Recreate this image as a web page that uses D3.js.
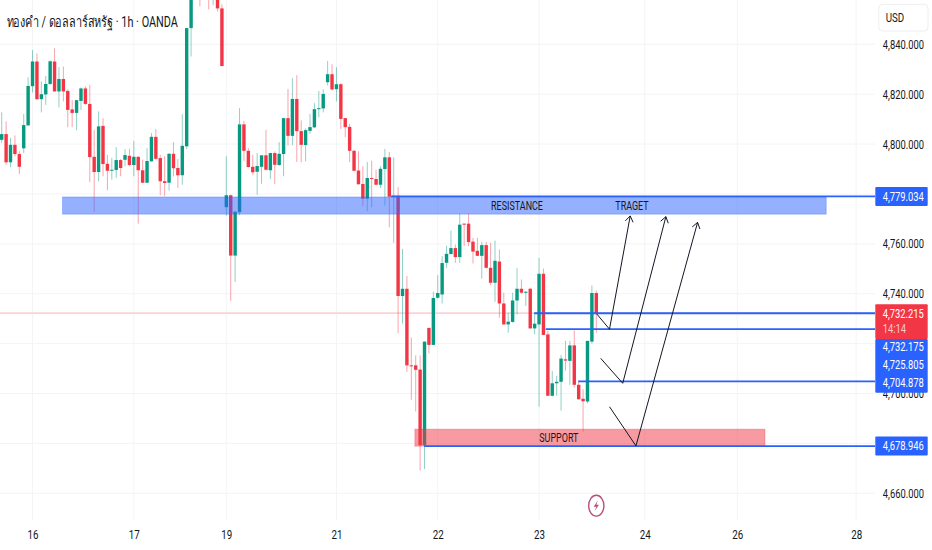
<!DOCTYPE html>
<html>
<head>
<meta charset="utf-8">
<script src="https://cdn.jsdelivr.net/npm/d3@7"></script>
<style>
  html, body { margin: 0; padding: 0; background: #fff; overflow: hidden; }
  svg { display: block; }
  text { font-family: Roboto, "Noto Sans", sans-serif; fill: #131722; }
</style>
</head>
<body>
<svg id="chart" width="932" height="550"></svg>
<script>
const opens = [
  4801.7, 4804.0, 4792.7, 4799.7, 4796.0, 4798.3, 4807.5, 4823.2, 4833.1, 4818.0,
  4819.9, 4824.1, 4833.1, 4821.1, 4826.1, 4821.3, 4813.9, 4812.5, 4817.3, 4822.3,
  4816.1, 4794.9, 4788.8, 4807.3, 4792.1, 4789.3, 4789.6, 4793.6, 4793.7, 4795.3,
  4791.6, 4794.9, 4789.5, 4784.5, 4793.1, 4802.9, 4794.4, 4785.1, 4784.5, 4796.1,
  4790.4, 4787.5, 4799.1, 4846.5, 4862.0, 4870.0, 4860.0, 4866.0, 4861.0, 4864.0,
  4854.4, 4774.7, 4779.5, 4755.3, 4772.7, 4807.9, 4797.3, 4790.9, 4788.9, 4790.9,
  4795.5, 4789.5, 4796.4, 4791.6, 4796.0, 4810.4, 4803.3, 4818.1, 4805.2, 4799.6,
  4805.3, 4806.7, 4814.0, 4814.3, 4824.8, 4828.0, 4822.0, 4824.0, 4810.4, 4806.9,
  4797.3, 4789.4, 4784.0, 4778.1, 4786.4, 4786.0, 4783.7, 4790.0, 4794.7, 4778.9,
  4779.3, 4739.1, 4742.0, 4711.3, 4711.3, 4709.6, 4679.3, 4726.3, 4719.5, 4738.4,
  4739.7, 4752.4, 4755.9, 4758.3, 4754.7, 4768.1, 4768.1, 4760.9, 4757.2, 4755.2,
  4759.5, 4750.4, 4744.4, 4752.9, 4736.1, 4727.7, 4728.7, 4737.3, 4742.0, 4740.7,
  4742.0, 4726.1, 4727.7, 4748.0, 4723.7, 4699.1, 4704.1, 4704.7, 4713.7, 4713.1,
  4719.3, 4703.5, 4697.9, 4696.8, 4720.8, 4740.3
];
const highs = [
  4812.7, 4809.1, 4802.4, 4803.5, 4797.1, 4812.1, 4826.8, 4837.7, 4836.4, 4825.1,
  4827.3, 4833.5, 4838.4, 4830.8, 4831.1, 4822.0, 4817.7, 4817.7, 4822.7, 4823.1,
  4823.7, 4805.7, 4813.1, 4810.4, 4795.7, 4794.4, 4798.8, 4794.0, 4798.0, 4798.1,
  4801.3, 4795.1, 4793.7, 4798.4, 4804.4, 4806.0, 4795.7, 4795.1, 4796.4, 4800.8,
  4794.0, 4812.0, 4846.5, 4865.0, 4872.0, 4875.0, 4870.0, 4872.0, 4868.0, 4868.0,
  4856.0, 4795.1, 4779.7, 4773.0, 4814.4, 4809.3, 4798.4, 4795.7, 4796.4, 4795.6,
  4805.7, 4796.5, 4797.1, 4800.8, 4810.5, 4822.1, 4826.4, 4827.6, 4809.5, 4806.3,
  4812.1, 4816.4, 4821.3, 4822.0, 4833.3, 4832.0, 4830.8, 4824.4, 4810.5, 4808.1,
  4797.7, 4797.1, 4791.1, 4792.8, 4793.3, 4789.7, 4791.1, 4798.1, 4796.8, 4794.7,
  4782.8, 4758.0, 4747.1, 4722.4, 4715.3, 4715.3, 4720.9, 4726.4, 4740.8, 4747.5,
  4755.1, 4759.3, 4765.3, 4759.7, 4772.1, 4768.2, 4772.1, 4762.4, 4762.4, 4760.8,
  4760.8, 4760.4, 4761.3, 4757.7, 4740.4, 4732.4, 4740.4, 4750.3, 4745.7, 4741.1,
  4742.4, 4732.4, 4754.4, 4750.1, 4725.1, 4709.1, 4707.1, 4715.5, 4721.1, 4721.1,
  4725.3, 4705.1, 4701.7, 4721.2, 4743.3, 4741.3
];
const lows = [
  4800.4, 4791.7, 4790.7, 4795.1, 4788.0, 4796.4, 4807.3, 4820.7, 4817.7, 4812.7,
  4815.7, 4823.7, 4821.1, 4814.7, 4817.1, 4806.8, 4806.8, 4805.5, 4813.7, 4815.7,
  4784.7, 4772.7, 4785.1, 4787.1, 4781.5, 4785.7, 4786.4, 4787.1, 4791.1, 4791.1,
  4787.1, 4768.1, 4784.4, 4784.4, 4792.9, 4793.7, 4779.5, 4779.1, 4781.3, 4787.1,
  4782.4, 4783.7, 4798.0, 4835.1, 4859.0, 4855.3, 4858.5, 4854.0, 4855.7, 4853.1,
  4831.1, 4771.3, 4737.1, 4744.7, 4771.5, 4793.3, 4790.6, 4787.7, 4779.7, 4784.1,
  4789.5, 4786.0, 4784.0, 4791.3, 4787.1, 4799.5, 4799.5, 4792.8, 4792.7, 4793.1,
  4804.1, 4806.5, 4810.7, 4812.7, 4823.5, 4821.5, 4817.1, 4806.0, 4802.8, 4792.7,
  4789.1, 4783.7, 4775.1, 4773.1, 4774.7, 4783.5, 4782.4, 4775.3, 4766.7, 4760.4,
  4724.1, 4728.1, 4708.7, 4697.5, 4692.8, 4669.1, 4669.7, 4716.1, 4719.4, 4738.0,
  4736.1, 4750.4, 4755.8, 4752.4, 4752.4, 4759.1, 4759.1, 4752.1, 4755.1, 4746.1,
  4750.1, 4743.5, 4736.8, 4730.4, 4727.6, 4724.4, 4728.4, 4731.7, 4740.1, 4735.1,
  4726.0, 4723.7, 4694.7, 4723.4, 4699.0, 4698.8, 4699.1, 4693.1, 4709.1, 4703.5,
  4702.4, 4697.5, 4684.7, 4696.1, 4720.0, 4724.4
];
const closes = [
  4804.0, 4792.7, 4799.7, 4796.0, 4790.9, 4807.6, 4823.3, 4833.1, 4818.0, 4820.0,
  4824.1, 4833.2, 4821.1, 4826.1, 4821.1, 4813.7, 4812.5, 4817.6, 4822.3, 4816.1,
  4794.8, 4788.8, 4807.1, 4792.0, 4789.3, 4789.7, 4793.6, 4790.4, 4795.6, 4791.6,
  4794.9, 4789.5, 4784.5, 4793.2, 4802.9, 4794.1, 4785.1, 4784.4, 4796.1, 4790.3,
  4787.5, 4799.3, 4846.5, 4862.0, 4868.0, 4860.0, 4866.0, 4861.0, 4864.0, 4854.4,
  4831.3, 4779.5, 4755.3, 4772.9, 4807.9, 4797.3, 4790.8, 4788.7, 4791.2, 4795.5,
  4789.7, 4796.4, 4791.7, 4796.1, 4810.4, 4803.3, 4818.1, 4805.2, 4799.7, 4805.6,
  4806.8, 4814.0, 4814.4, 4820.1, 4828.0, 4821.9, 4824.0, 4810.1, 4806.8, 4797.3,
  4789.3, 4783.9, 4778.1, 4786.4, 4786.0, 4783.7, 4790.1, 4794.7, 4778.9, 4779.3,
  4739.1, 4742.0, 4711.3, 4711.1, 4709.5, 4679.3, 4720.8, 4719.5, 4738.3, 4740.3,
  4752.3, 4756.0, 4758.3, 4754.7, 4767.7, 4767.9, 4760.7, 4756.9, 4755.2, 4759.5,
  4750.4, 4744.4, 4753.2, 4736.1, 4727.7, 4728.8, 4737.3, 4742.0, 4740.4, 4740.8,
  4726.1, 4728.0, 4748.0, 4723.5, 4699.1, 4704.1, 4704.7, 4714.0, 4713.2, 4719.3,
  4703.5, 4697.7, 4696.9, 4721.1, 4740.3, 4732.2
];

// time axis, ticks sit on bar numbers
const dayTicks = [7, 30, 51, 76, 99, 122, 146, 167, 194];
const dayLabels = ['16', '17', '19', '21', '22', '23', '24', '26', '28'];
const priceTicks = [4660, 4680, 4700, 4720, 4740, 4760, 4780, 4800, 4820, 4840];
// 4680, 4720 and 4780 are fully covered by the price tags, so no label
const priceLabels = [4660, 4700, 4740, 4760, 4800, 4820, 4840];

const lastPrice = 4732.215;
const levels = [
  { price: 4779.034, from: 88.4 },
  { price: 4732.175, from: 120.9 },
  { price: 4725.805, from: 123.5 },
  { price: 4704.878, from: 130.9 },
  { price: 4678.946, from: 95.9 }
];
const resistanceZone = { from: 13.8, to: 187.2, top: 4778.8, bottom: 4771.9 };
const supportZone = { from: 93.8, to: 173.3, top: 4685.7, bottom: 4678.9 };
const zoneLabels = [
  { text: 'RESISTANCE', bar: 117, price: 4775.4 },
  { text: 'TRAGET', bar: 143.1, price: 4775.6 },
  { text: 'SUPPORT', bar: 126.5, price: 4682.5 }
];
const arrows = [
  [[135.1, 4731.9], [138.0, 4725.8], [142.7, 4771.2]],
  [[136.0, 4714.1], [141.0, 4704.1], [150.8, 4770.9]],
  [[138.0, 4694.7], [144.0, 4679.0], [158.0, 4768.6]]
];

const UP = '#089981', DOWN = '#f23645', BLUE = '#2962ff';
const squeeze = 'scale(.75,1)'; // the picture is narrower than it is tall

const svg = d3.select('#chart');
const plotRight = 875, plotBottom = 520;

const x = d3.scaleLinear().domain([0, 135]).range([1.7, 596.3]);
const y = d3.scaleLinear().domain([4660, 4840]).range([493.3, 44.3]);

// grid
const grid = svg.append('g').attr('stroke', '#f3f4f6').attr('stroke-width', 1);
grid.selectAll('line.h').data(priceTicks).join('line')
  .attr('class', 'h')
  .attr('x1', 0).attr('x2', plotRight)
  .attr('y1', d => y(d)).attr('y2', d => y(d));
grid.selectAll('line.v').data(dayTicks).join('line')
  .attr('class', 'v')
  .attr('x1', d => x(d)).attr('x2', d => x(d))
  .attr('y1', 0).attr('y2', plotBottom);

// last price line
svg.append('line')
  .attr('x1', 0).attr('x2', plotRight)
  .attr('y1', y(lastPrice)).attr('y2', y(lastPrice))
  .attr('stroke', '#fbd3d7').attr('stroke-width', 1.6);

// candles
const bars = d3.range(opens.length);
const colorOf = i => closes[i] >= opens[i] ? UP : DOWN;
svg.append('g').selectAll('line').data(bars).join('line')
  .attr('x1', i => x(i)).attr('x2', i => x(i))
  .attr('y1', i => y(highs[i])).attr('y2', i => y(lows[i]))
  .attr('stroke', colorOf).attr('stroke-opacity', 0.45);
svg.append('g').selectAll('rect').data(bars).join('rect')
  .attr('x', i => x(i) - 1.7)
  .attr('width', 3.4)
  .attr('y', i => y(Math.max(opens[i], closes[i])))
  .attr('height', i => Math.max(1, Math.abs(y(opens[i]) - y(closes[i]))))
  .attr('fill', colorOf);

// zones
function drawZone(zone, color) {
  svg.append('rect')
    .attr('x', x(zone.from))
    .attr('width', x(zone.to) - x(zone.from))
    .attr('y', y(zone.top))
    .attr('height', y(zone.bottom) - y(zone.top))
    .attr('fill', color).attr('fill-opacity', 0.5)
    .attr('stroke', color).attr('stroke-opacity', 0.3);
}
drawZone(resistanceZone, BLUE);
drawZone(supportZone, DOWN);

// horizontal levels
svg.append('g').selectAll('line').data(levels).join('line')
  .attr('x1', d => x(d.from)).attr('x2', plotRight)
  .attr('y1', d => y(d.price)).attr('y2', d => y(d.price))
  .attr('stroke', BLUE).attr('stroke-width', 1.8);

// arrows
const arrowLine = d3.line().x(d => x(d[0])).y(d => y(d[1]));
arrows.forEach(pts => {
  svg.append('path')
    .attr('d', arrowLine(pts))
    .attr('fill', 'none').attr('stroke', '#131722').attr('stroke-width', 1);
  const tip = pts[pts.length - 1], prev = pts[pts.length - 2];
  const tx = x(tip[0]), ty = y(tip[1]);
  const a = Math.atan2(y(prev[1]) - ty, x(prev[0]) - tx);
  const head = [a - 0.6, a + 0.6].map(b => [tx + 7 * Math.cos(b), ty + 7 * Math.sin(b)]);
  svg.append('path')
    .attr('d', `M${head[0]}L${tx},${ty}L${head[1]}`)
    .attr('fill', 'none').attr('stroke', '#131722').attr('stroke-width', 1);
});

// zone captions
svg.append('g').selectAll('text').data(zoneLabels).join('text')
  .attr('transform', d => `translate(${x(d.bar)},${y(d.price)}) scale(.69,1)`)
  .attr('text-anchor', 'middle')
  .attr('dy', '0.35em')
  .attr('font-size', 13)
  .text(d => d.text);

// bottom axis
const xAxis = svg.append('g')
  .attr('font-family', null)
  .attr('transform', 'translate(0,530)')
  .call(d3.axisBottom(x)
    .tickValues(dayTicks)
    .tickSize(0)
    .tickPadding(0)
    .tickFormat((d, i) => dayLabels[i]));
xAxis.select('.domain').remove();
xAxis.attr('font-family', null);
xAxis.selectAll('text')
  .attr('font-size', 13)
  .attr('transform', squeeze);

// right axis
const fmt = d3.format(',.3f');
const yAxis = svg.append('g')
  .attr('transform', 'translate(924,0)')
  .call(d3.axisRight(y).tickValues(priceLabels).tickSize(0).tickPadding(0).tickFormat(fmt));
yAxis.select('.domain').remove();
yAxis.attr('font-family', null);
yAxis.selectAll('text')
  .attr('text-anchor', 'end')
  .attr('font-size', 12.5)
  .attr('transform', squeeze);

// price labels
function priceTag(top, bottom, color) {
  svg.append('rect')
    .attr('x', 875.3).attr('width', 52.4)
    .attr('y', top).attr('height', bottom - top)
    .attr('rx', 1)
    .attr('fill', color);
}
function tagText(value, cy, fill) {
  svg.append('text')
    .attr('transform', `translate(882.7,${cy}) ${squeeze}`)
    .attr('dy', '0.35em')
    .attr('font-size', 12.5)
    .style('fill', fill)
    .text(value);
}
priceTag(y(levels[0].price) - 9.5, y(levels[0].price) + 9.5, BLUE);
tagText(fmt(levels[0].price), y(levels[0].price), '#fff');
priceTag(y(levels[4].price) - 9.5, y(levels[4].price) + 9.5, BLUE);
tagText(fmt(levels[4].price), y(levels[4].price), '#fff');
// the three lower tags are pushed apart so that they do not overlap
priceTag(339, 392.7, BLUE);
tagText(fmt(levels[1].price), 346.7, '#fff');
tagText(fmt(levels[2].price), 365, '#fff');
tagText(fmt(levels[3].price), 382.7, '#fff');
priceTag(304.3, 339, DOWN);
tagText(fmt(lastPrice), 314, '#fff');
tagText('14:14', 328.7, '#fcc9cd');

// currency box
svg.append('rect')
  .attr('x', 878.7).attr('y', 4.3).attr('width', 49.3).attr('height', 26.7)
  .attr('rx', 4)
  .attr('fill', '#fff').attr('stroke', '#eceef2');
svg.append('text')
  .attr('transform', `translate(885.7,17.7) ${squeeze}`)
  .attr('dy', '0.35em')
  .attr('font-size', 13)
  .text('USD');

// title
svg.append('text')
  .attr('transform', 'translate(6.5,22) scale(.75,1)')
  .attr('dy', '0.35em')
  .attr('font-size', 14.5)
  .text('ทองคำ / ดอลลาร์สหรัฐ · 1h · OANDA');

// flash icon
const icon = svg.append('g').attr('transform', `translate(${x(135)},505.7)`);
icon.append('ellipse')
  .attr('rx', 7.6).attr('ry', 10.4)
  .attr('fill', '#fff').attr('stroke', '#b84f7c').attr('stroke-width', 1.4);
icon.append('path')
  .attr('d', 'M1.6,-5.5L-2.6,1H0L-1.6,5.5L2.6,-1H0Z')
  .attr('fill', '#b84f7c');
</script>
</body>
</html>
